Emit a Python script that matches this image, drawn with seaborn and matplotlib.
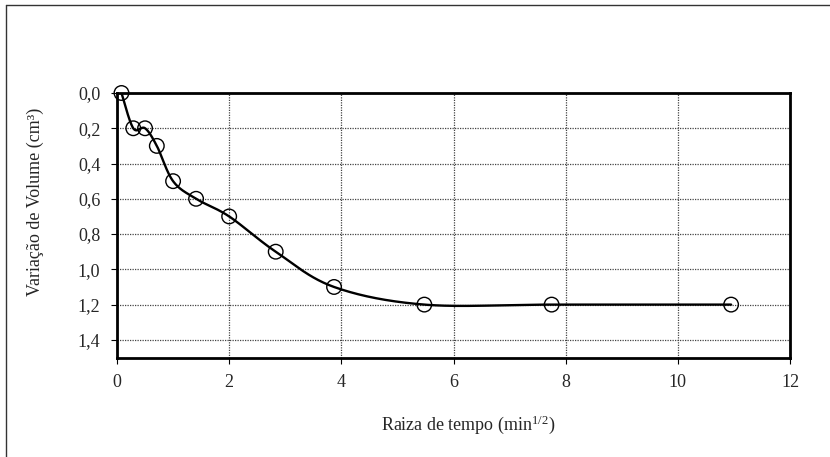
import numpy as np
import pandas as pd
import matplotlib
matplotlib.use('Agg')
import matplotlib.pyplot as plt
from matplotlib.lines import Line2D
import seaborn as sns

# data
raiz_tempo = [0.08, 0.29, 0.5, 0.71, 1.0, 1.41, 2.0, 2.83, 3.87, 5.48, 7.75, 10.95]
variacao_volume = [0.0, 0.2, 0.2, 0.3, 0.5, 0.6, 0.7, 0.9, 1.1, 1.2, 1.2, 1.2]
yticks = [0.0, 0.2, 0.4, 0.6, 0.8, 1.0, 1.2, 1.4]
xticks = [0, 2, 4, 6, 8, 10, 12]

df = pd.DataFrame({'x': raiz_tempo, 'y': variacao_volume})


def excel_smooth(x, y, n=40):
    # bezier smoothing like the spreadsheet "smoothed line"
    x = np.asarray(x, float)
    y = np.asarray(y, float)
    px, py = [], []
    for i in range(len(x) - 1):
        x0, y0 = x[max(i - 1, 0)], y[max(i - 1, 0)]
        x3, y3 = x[min(i + 2, len(x) - 1)], y[min(i + 2, len(x) - 1)]
        c1x = x[i] + (x[i + 1] - x0) / 6
        c1y = y[i] + (y[i + 1] - y0) / 6
        c2x = x[i + 1] - (x3 - x[i]) / 6
        c2y = y[i + 1] - (y3 - y[i]) / 6
        t = np.linspace(0, 1, n)
        px.extend((1 - t) ** 3 * x[i] + 3 * (1 - t) ** 2 * t * c1x + 3 * (1 - t) * t ** 2 * c2x + t ** 3 * x[i + 1])
        py.extend((1 - t) ** 3 * y[i] + 3 * (1 - t) ** 2 * t * c1y + 3 * (1 - t) * t ** 2 * c2y + t ** 3 * y[i + 1])
    return pd.DataFrame({'x': px, 'y': py})


curve = excel_smooth(raiz_tempo, variacao_volume)

sns.set_style('white')
plt.rcParams['font.family'] = ['Liberation Serif', 'DejaVu Serif']
plt.rcParams['mathtext.fontset'] = 'custom'
plt.rcParams['mathtext.rm'] = 'Liberation Serif'
plt.rcParams['mathtext.it'] = 'Liberation Serif:italic'

fig = plt.figure(figsize=(8.3, 4.57), dpi=100)
ax = fig.add_axes([117 / 830, 1 - 357.5 / 457, (790 - 117) / 830, (357.5 - 93) / 457])

sns.lineplot(data=curve, x='x', y='y', ax=ax, color='black', linewidth=1.7, sort=False,
             estimator=None)
sns.scatterplot(data=df, x='x', y='y', ax=ax, s=110, facecolor='none', edgecolor='black',
                linewidth=1.0, zorder=5, clip_on=False)

ax.set_xlim(0, 12)
ax.set_ylim(1.5, 0)
ax.set_xticks(xticks)
ax.set_yticks(yticks)
ax.set_xticklabels([str(v) for v in xticks], fontsize=13)
ax.set_yticklabels([f'{v:.1f}'.replace('.', ',') for v in yticks], fontsize=13)
ax.grid(True, color='#444444', linestyle=(0, (1, 1)), linewidth=0.9)
ax.tick_params(axis='both', direction='out', length=4, width=0.8, color='black', pad=8,
               left=True, bottom=True)
ax.set_xlabel('')
ax.set_ylabel('')
for s in ax.spines.values():
    s.set_color('black')
    s.set_linewidth(2)

fig.text(468 / 830, 1 - 425 / 457, r'Raiza de tempo (min$^\mathrm{1/2}$)', ha='center',
         va='center', fontsize=13)
fig.text(35 / 830, 1 - 202 / 457, 'Variação de Volume (cm³)', ha='center', va='center',
         rotation=90, fontsize=13)

# outer frame
fig.add_artist(Line2D([6 / 830, 6 / 830], [0, 1 - 5 / 457], transform=fig.transFigure,
                      color='#333333', linewidth=1))
fig.add_artist(Line2D([6 / 830, 1], [1 - 5 / 457, 1 - 5 / 457], transform=fig.transFigure,
                      color='#333333', linewidth=1))

fig.savefig('out.png', dpi=100)
